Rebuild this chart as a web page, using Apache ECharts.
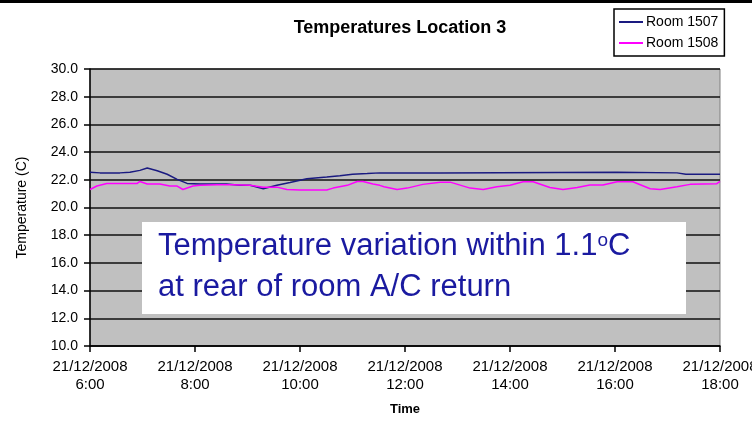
<!DOCTYPE html>
<html><head><meta charset="utf-8">
<script src="https://cdn.jsdelivr.net/npm/echarts@6/dist/echarts.min.js"></script>
<style>html,body{margin:0;padding:0;background:#fff}#c{width:752px;height:422px}</style>
</head><body><div id="c"></div>
<script>
// Hours since midnight on 21/12/2008
var hours1507 = [6.0, 6.19, 6.57, 6.76, 6.95, 7.09, 7.28, 7.47, 7.66, 7.85, 8.1, 8.6, 8.86, 9.05, 9.3, 9.56, 9.81, 10.13, 10.51, 10.76, 11.0, 11.28, 11.52, 12.67, 16.04, 17.18, 17.35, 18.0];
var room1507 = [22.55, 22.5, 22.5, 22.55, 22.68, 22.85, 22.65, 22.4, 22.03, 21.74, 21.7, 21.7, 21.6, 21.6, 21.35, 21.6, 21.8, 22.08, 22.2, 22.3, 22.4, 22.45, 22.5, 22.5, 22.55, 22.5, 22.4, 22.4];
var hours1508 = [6.0, 6.13, 6.32, 6.9, 6.95, 7.09, 7.33, 7.52, 7.66, 7.77, 7.96, 8.1, 8.42, 8.72, 9.05, 9.3, 9.56, 9.75, 10.0, 10.51, 10.63, 10.9, 11.09, 11.2, 11.39, 11.52, 11.6, 11.85, 12.04, 12.34, 12.67, 12.86, 13.24, 13.49, 13.75, 14.0, 14.25, 14.44, 14.76, 15.01, 15.28, 15.52, 15.77, 16.04, 16.34, 16.67, 16.86, 17.18, 17.43, 17.68, 17.94, 18.0];
var room1508 = [21.3, 21.55, 21.74, 21.74, 21.88, 21.7, 21.7, 21.55, 21.55, 21.3, 21.55, 21.6, 21.65, 21.65, 21.6, 21.47, 21.47, 21.3, 21.27, 21.27, 21.4, 21.6, 21.88, 21.88, 21.7, 21.6, 21.5, 21.3, 21.4, 21.67, 21.83, 21.83, 21.4, 21.3, 21.5, 21.6, 21.86, 21.86, 21.45, 21.3, 21.45, 21.62, 21.62, 21.86, 21.86, 21.35, 21.3, 21.5, 21.67, 21.7, 21.72, 21.88];
var xTicks = [6, 8, 10, 12, 14, 16, 18];
var dateLabel = '21/12/2008';
var seriesNames = ['Room 1507', 'Room 1508'];

function pairs(xs, ys) { return xs.map(function (x, i) { return [x, ys[i]]; }); }

var chart = echarts.init(document.getElementById('c'), null, {renderer: 'canvas'});
var F = 'Liberation Sans, Arial, sans-serif';
chart.setOption({
  animation: false,
  backgroundColor: '#fff',
  title: {
    text: 'Temperatures Location 3', left: 395, top: 14, textAlign: 'center',
    textStyle: {fontFamily: F, fontSize: 18, fontWeight: 'bold', color: '#000'}
  },
  legend: {
    orient: 'vertical', left: 614, top: 9,
    padding: [6, 6, 6, 5], itemGap: 7,
    borderColor: '#000', borderWidth: 1.5, backgroundColor: '#fff',
    icon: 'rect', itemWidth: 24, itemHeight: 2,
    textStyle: {fontFamily: F, fontSize: 14, color: '#000', padding: [0, 0, 0, -2]},
    data: seriesNames
  },
  grid: {
    left: 90, right: 32, top: 69, bottom: 76, show: true,
    containLabel: false, outerBoundsMode: 'none',
    backgroundColor: '#c0c0c0', borderColor: '#808080', borderWidth: 1
  },
  xAxis: {
    type: 'value', min: 6, max: 18, interval: 2,
    name: 'Time', nameLocation: 'middle', nameGap: 57,
    nameTextStyle: {fontFamily: F, fontSize: 13, fontWeight: 'bold', color: '#000'},
    axisLine: {show: true, lineStyle: {color: '#000', width: 1.5}},
    axisTick: {show: true, length: 6, lineStyle: {color: '#000', width: 1.5}},
    splitLine: {show: false},
    axisLabel: {
      fontFamily: F, fontSize: 15, color: '#000', lineHeight: 18, margin: 12,
      formatter: function (v) { return dateLabel + '\n' + v + ':00'; }
    }
  },
  yAxis: {
    type: 'value', min: 10, max: 30, interval: 2,
    name: 'Temperature (C)', nameLocation: 'middle', nameGap: 61, nameRotate: 90,
    nameTextStyle: {fontFamily: F, fontSize: 14, color: '#000'},
    axisLine: {show: true, lineStyle: {color: '#000', width: 1.5}},
    axisTick: {show: true, length: 6, lineStyle: {color: '#000', width: 1.5}},
    splitLine: {show: true, lineStyle: {color: '#111', width: 1.6}},
    axisLabel: {
      fontFamily: F, fontSize: 14, color: '#000', margin: 12,
      formatter: function (v) { return v.toFixed(1); }
    }
  },
  series: [
    {name: seriesNames[0], type: 'line', symbol: 'none', data: pairs(hours1507, room1507),
     lineStyle: {color: '#1a1a80', width: 1.5}, itemStyle: {color: '#1a1a80'}},
    {name: seriesNames[1], type: 'line', symbol: 'none', data: pairs(hours1508, room1508),
     lineStyle: {color: '#ff00ff', width: 1.5}, itemStyle: {color: '#ff00ff'}}
  ],
  graphic: [
    {type: 'rect', shape: {x: 0, y: 0, width: 752, height: 3}, style: {fill: '#000'}},
    {type: 'rect', shape: {x: 142, y: 222, width: 544, height: 92}, style: {fill: '#fff'}, z: 10},
    {type: 'text', left: 158, top: 231, z: 11,
     style: {text: 'Temperature variation within 1.1{s|o}C', font: '31px ' + F, fill: '#1a1aa0',
       rich: {s: {fontSize: 19, fontFamily: F, fill: '#1a1aa0', verticalAlign: 'top', padding: [0, 0, 12, 0]}}}},
    {type: 'text', left: 158, top: 272, z: 11,
     style: {text: 'at rear of room A/C return', font: '31px ' + F, fill: '#1a1aa0'}}
  ]
});
</script></body></html>
